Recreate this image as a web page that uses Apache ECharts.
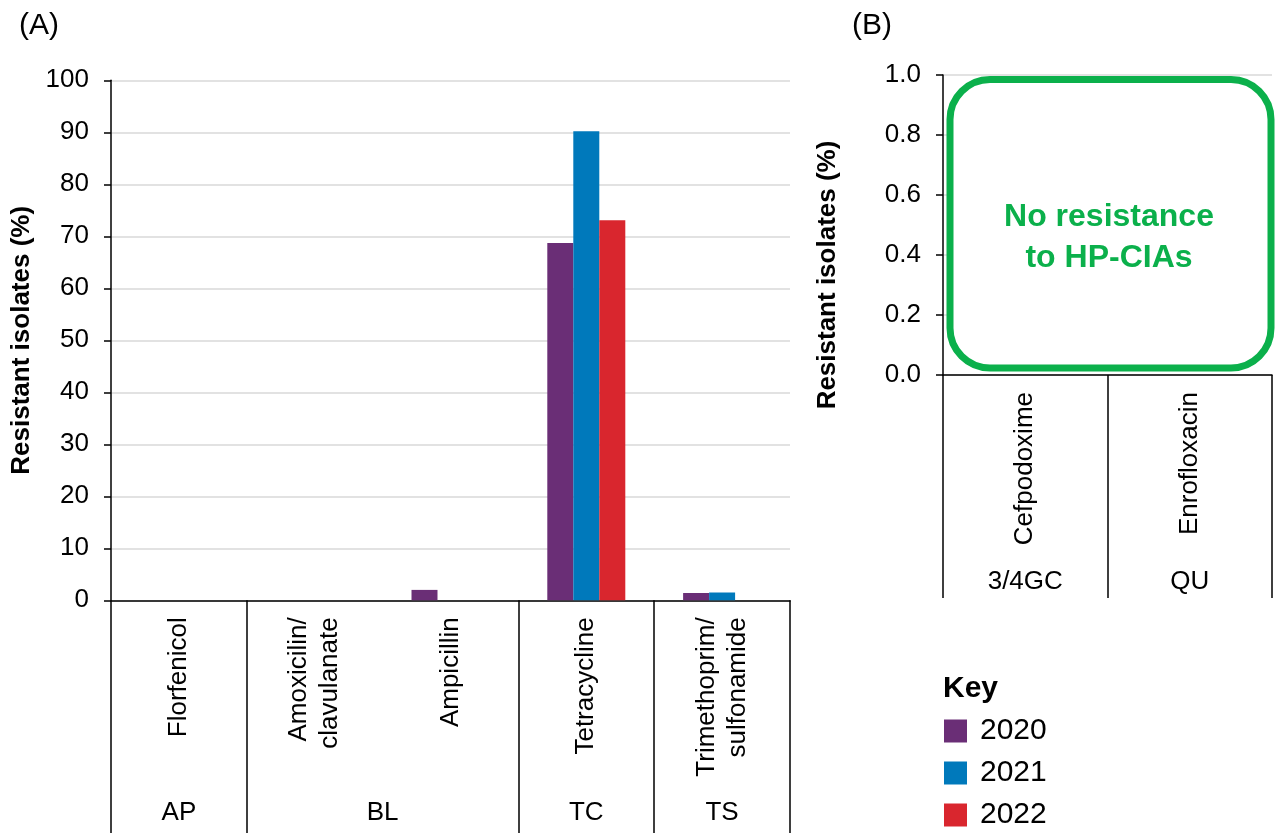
<!DOCTYPE html>
<html>
<head>
<meta charset="utf-8">
<script src="https://cdn.jsdelivr.net/npm/echarts@6/dist/echarts.min.js"></script>
<style>
  html, body { margin: 0; padding: 0; background: #fff; }
  #chart { width: 1275px; height: 833px; }
</style>
</head>
<body>
<div id="chart"></div>
<script>
// panel A: drugs, their classes and % resistant per year
var drugsA = ['Florfenicol', 'Amoxicilin/\nclavulanate', 'Ampicillin', 'Tetracycline', 'Trimethoprim/\nsulfonamide'];
var classesA = ['AP', 'BL', 'TC', 'TS'];
var classSpanA = [1, 2, 1, 1];
var res2020A = [0, 0, 2.0, 68.7, 1.4];
var res2021A = [0, 0, 0, 90.2, 1.5];
var res2022A = [0, 0, 0, 73.1, 0];

// panel B: HP-CIAs (no resistance found)
var drugsB = ['Cefpodoxime', 'Enrofloxacin'];
var classesB = ['3/4GC', 'QU'];
var classSpanB = [1, 1];
var res2020B = [0, 0];
var res2021B = [0, 0];
var res2022B = [0, 0];

var years = ['2020', '2021', '2022'];
var colors = ['#6a2e76', '#0079bb', '#d9262e'];

var gridA = { left: 111, top: 80.3, width: 679, height: 520 };
var gridB = { left: 943, top: 75, width: 329, height: 300 };

var font = 'Liberation Sans, Arial, sans-serif';
var black = '#000';

// boundaries and centres of the class groups along a 0..n value axis
function groupAxis(spans) {
    var bounds = [0], centers = [];
    var pos = 0;
    spans.forEach(function (s) {
        centers.push(pos + s / 2);
        pos += s;
        bounds.push(pos);
    });
    return { bounds: bounds, centers: centers, total: pos };
}

var gA = groupAxis(classSpanA);
var gB = groupAxis(classSpanB);

function drugAxis(gridIndex, data) {
    return {
        type: 'category',
        gridIndex: gridIndex,
        data: data,
        position: 'bottom',
        axisLine: { show: true, lineStyle: { color: black, width: 1.5 } },
        axisTick: { show: false },
        axisLabel: {
            interval: 0, rotate: 90, margin: 17, fontSize: 26, lineHeight: 31,
            color: black, fontFamily: font
        }
    };
}

function classAxis(gridIndex, g, names, tickLen, labelMargin) {
    return {
        type: 'value',
        gridIndex: gridIndex,
        position: 'bottom',
        min: 0,
        max: g.total,
        axisLine: { show: false },
        splitLine: { show: false },
        axisTick: {
            show: true, customValues: g.bounds, length: tickLen,
            lineStyle: { color: black, width: 1.5 }
        },
        axisLabel: {
            customValues: g.centers, margin: labelMargin, fontSize: 26,
            color: black, fontFamily: font,
            formatter: function (v) {
                for (var i = 0; i < g.centers.length; i++) {
                    if (Math.abs(g.centers[i] - v) < 1e-6) return names[i];
                }
                return '';
            }
        }
    };
}

function valueAxis(gridIndex, max, interval, nameGap, namePad, fmt) {
    return {
        type: 'value',
        gridIndex: gridIndex,
        min: 0,
        max: max,
        interval: interval,
        name: 'Resistant isolates (%)',
        nameLocation: 'middle',
        nameGap: nameGap,
        nameTextStyle: {
            fontSize: 26, fontWeight: 'bold', color: black, fontFamily: font,
            padding: namePad
        },
        axisLine: { show: true, lineStyle: { color: black, width: 1.5 } },
        axisTick: { show: true, length: 7, lineStyle: { color: black, width: 1.5 } },
        axisLabel: { margin: 22, fontSize: 26, color: black, fontFamily: font, formatter: fmt },
        splitLine: { show: true, lineStyle: { color: '#d9d9d9', width: 1.5 } }
    };
}

function bars(name, data, color, xIdx, yIdx) {
    return {
        name: name,
        type: 'bar',
        xAxisIndex: xIdx,
        yAxisIndex: yIdx,
        data: data,
        barWidth: 26,
        barGap: '0%',
        itemStyle: { color: color },
        emphasis: { disabled: true }
    };
}

var chart = echarts.init(document.getElementById('chart'));

var option = {
    animation: false,
    textStyle: { fontFamily: font },
    title: [
        { text: '(A)', left: 19, top: 11, padding: 0,
          textStyle: { fontSize: 30, fontWeight: 'normal', color: black, fontFamily: font } },
        { text: '(B)', left: 852, top: 11, padding: 0,
          textStyle: { fontSize: 30, fontWeight: 'normal', color: black, fontFamily: font } },
        { text: 'Key', left: 943, top: 674, padding: 0,
          textStyle: { fontSize: 30, fontWeight: 'bold', color: black, fontFamily: font } }
    ],
    legend: {
        data: years,
        orient: 'vertical',
        left: 944,
        top: 716,
        padding: 0,
        itemWidth: 23,
        itemHeight: 23,
        itemGap: 12,
        icon: 'rect',
        selectedMode: false,
        textStyle: { fontSize: 30, color: black, fontFamily: font, padding: [0, 0, 0, 8] }
    },
    grid: [
        { left: gridA.left, top: gridA.top, width: gridA.width, height: gridA.height },
        { left: gridB.left, top: gridB.top, width: gridB.width, height: gridB.height }
    ],
    xAxis: [
        drugAxis(0, drugsA),
        classAxis(0, gA, classesA, 233, 200),
        drugAxis(1, drugsB),
        classAxis(1, gB, classesB, 223, 194)
    ],
    yAxis: [
        valueAxis(0, 100, 10, 76, 0, function (v) { return v; }),
        valueAxis(1, 1, 0.2, 102, [0, 100, 0, 0], function (v) { return v.toFixed(1); })
    ],
    series: [
        bars(years[0], res2020A, colors[0], 0, 0),
        bars(years[1], res2021A, colors[1], 0, 0),
        bars(years[2], res2022A, colors[2], 0, 0),
        bars(years[0], res2020B, colors[0], 2, 1),
        bars(years[1], res2021B, colors[1], 2, 1),
        bars(years[2], res2022B, colors[2], 2, 1)
    ],
    graphic: [
        {
            type: 'rect',
            z: 100,
            shape: { x: gridB.left + 7, y: gridB.top + 4.5, width: gridB.width - 8, height: gridB.height - 11.5, r: 40 },
            style: { fill: '#fff', stroke: '#0bb04b', lineWidth: 7 }
        },
        {
            type: 'text',
            z: 101,
            x: 1109,
            y: 238,
            style: {
                text: 'No resistance\nto HP-CIAs',
                fill: '#0bb04b',
                font: 'bold 32px ' + font,
                align: 'center',
                verticalAlign: 'middle',
                lineHeight: 41
            }
        }
    ]
};

chart.setOption(option);
</script>
</body>
</html>
